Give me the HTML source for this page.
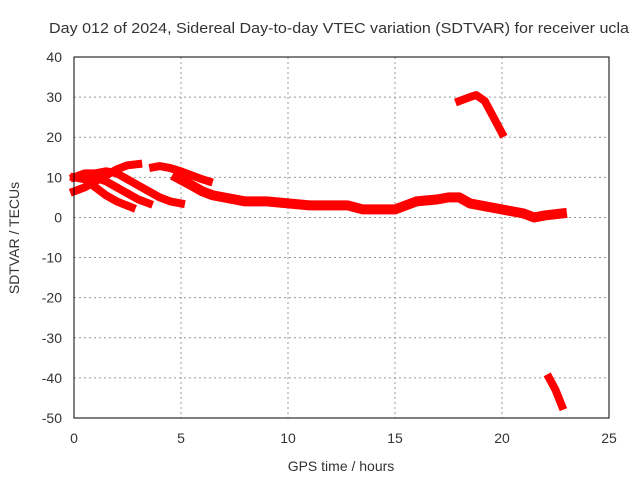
<!DOCTYPE html>
<html><head><meta charset="utf-8"><style>
body{margin:0;background:#fff}
svg text{font-family:"Liberation Sans",sans-serif;font-size:14px;fill:#333}
</style></head><body>
<svg id="chart" width="640" height="480">
<text x="339" y="33" text-anchor="middle" textLength="580" lengthAdjust="spacingAndGlyphs" style="font-size:15px">Day 012 of 2024, Sidereal Day-to-day VTEC variation (SDTVAR) for receiver ucla</text>
<text x="341" y="471" text-anchor="middle">GPS time / hours</text>
<text transform="translate(19,238) rotate(-90)" text-anchor="middle">SDTVAR / TECUs</text>
<g id="grid"></g><g id="ticks"></g><g id="series"></g>
<rect x="74" y="57" width="535" height="361" fill="none" stroke="#000" stroke-width="1"/>
</svg>
<script>
const xTicks=[0,5,10,15,20,25];
const yTicks=[40,30,20,10,0,-10,-20,-30,-40,-50];
const track1=[[0,6.5],[0.5,7.5],[1,9],[1.5,10.5],[2,12],[2.5,13],[3,13.3]];
const track2=[[0,10],[0.5,11],[1,11],[1.5,11.5],[2,11],[2.5,9.5],[3,8],[3.5,6.5],[4,5],[4.5,4],[5,3.5]];
const track3=[[0.3,10],[1,10],[1.5,9],[2,7.5],[2.5,6],[3,4.5],[3.5,3.5]];
const track4=[[0,10],[0.5,9.5],[1,7.5],[1.5,5.5],[2,4],[2.7,2.5]];
const track5=[[3.7,12.5],[4,12.8],[4.5,12.3],[5,11.5],[5.5,10.5],[6,9.5],[6.3,9]];
const track6=[[4.8,10],[5.5,8],[6,6.5],[6.5,5.5],[7,5],[8,4],[9,4],[10,3.5],[11,3],[12,3],[12.8,3],[13.5,2],[14,2],[15,2],[15.5,3],[16,4],[17,4.5],[17.5,5],[18,5],[18.5,3.5],[19,3],[20,2],[21,1],[21.5,0],[22,0.5],[22.8,1]];
const track7=[[18,29],[18.5,30],[18.8,30.5],[19.2,29],[19.5,26],[20,21]];
const track8=[[22.2,-40],[22.5,-43],[22.8,-47]];
const tracks=[track1,track2,track3,track4,track5,track6,track7,track8];
const NS='http://www.w3.org/2000/svg';
const X=v=>74+v*(535/25), Y=v=>57+(40-v)*(361/90);
const grid=document.getElementById('grid'),ticks=document.getElementById('ticks'),ser=document.getElementById('series');
function mk(t,a,p){const e=document.createElementNS(NS,t);for(const k in a)e.setAttribute(k,a[k]);p.appendChild(e);return e;}
xTicks.forEach(v=>{
 if(v>0&&v<25){const l=mk('line',{x1:X(v),x2:X(v),y1:57,y2:418,stroke:'#999','stroke-dasharray':'2,3'},grid);
 
 }
 const t=mk('text',{x:X(v),y:443,'text-anchor':'middle'},ticks);t.textContent=v;
 
 
});
yTicks.forEach(v=>{
 if(v<40&&v>-50){const l=mk('line',{x1:74,x2:609,y1:Y(v),y2:Y(v),stroke:'#999','stroke-dasharray':'2,3'},grid);
 
 }
 const t=mk('text',{x:62,y:Y(v)+5,'text-anchor':'end'},ticks);t.textContent=v;
 
 
});
tracks.forEach((tr,i)=>{
 const p=mk('polyline',{points:tr.map(d=>X(d[0])+','+Y(d[1])).join(' '),fill:'none',stroke:'#f00','stroke-width':i==5?10:8,'stroke-linejoin':'round','stroke-linecap':'square'},ser);
 
 
});
</script>
</body></html>
